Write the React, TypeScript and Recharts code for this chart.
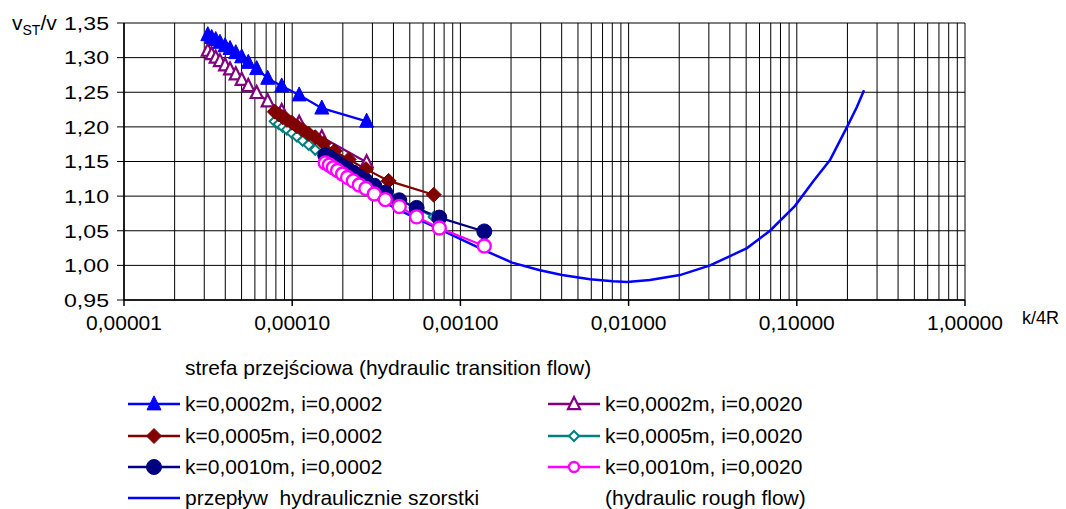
import React from "react";
import { LineChart, Line, XAxis, YAxis, CartesianGrid, Label } from "recharts";

// k/4R for the three roughness values
const kRatio02 = [3.15e-5, 3.32e-5, 3.51e-5, 3.72e-5, 3.99e-5, 4.27e-5, 4.62e-5, 5.01e-5, 5.48e-5, 6.15e-5, 7.15e-5, 8.66e-5, 1.1e-4, 1.5e-4, 2.77e-4];
const kRatio05 = [7.87e-5, 8.31e-5, 8.78e-5, 9.31e-5, 9.96e-5, 1.067e-4, 1.154e-4, 1.253e-4, 1.371e-4, 1.538e-4, 1.788e-4, 2.166e-4, 2.745e-4, 3.745e-4, 6.94e-4];
const kRatio10 = [1.573e-4, 1.662e-4, 1.755e-4, 1.861e-4, 1.993e-4, 2.134e-4, 2.308e-4, 2.505e-4, 2.742e-4, 3.076e-4, 3.576e-4, 4.332e-4, 5.49e-4, 7.49e-4, 1.387e-3];

// vST/v
const v02_i0002 = [1.333, 1.329, 1.326, 1.322, 1.317, 1.313, 1.307, 1.301, 1.293, 1.284, 1.27, 1.259, 1.246, 1.227, 1.208];
const v02_i0020 = [1.31, 1.305, 1.3, 1.295, 1.289, 1.283, 1.276, 1.268, 1.259, 1.249, 1.237, 1.223, 1.206, 1.185, 1.149];
const v05_i0002 = [1.222, 1.218, 1.214, 1.21, 1.206, 1.201, 1.196, 1.19, 1.185, 1.176, 1.165, 1.153, 1.139, 1.122, 1.102];
const v05_i0020 = [1.208, 1.204, 1.2, 1.196, 1.191, 1.186, 1.18, 1.174, 1.167, 1.159, 1.148, 1.136, 1.121, 1.103, 1.07];
const v10_i0002 = [1.159, 1.156, 1.152, 1.148, 1.143, 1.139, 1.134, 1.128, 1.122, 1.115, 1.105, 1.094, 1.083, 1.069, 1.049];
const v10_i0020 = [1.148, 1.145, 1.141, 1.137, 1.132, 1.127, 1.122, 1.116, 1.111, 1.103, 1.095, 1.085, 1.07, 1.054, 1.028];

// hydraulic rough flow curve
const roughX = [1.58e-4, 2.75e-4, 4.38e-4, 8.68e-4, 1.38e-3, 2.03e-3, 2.97e-3, 4.02e-3, 5.9e-3, 8.08e-3, 9.78e-3, 1.34e-2, 2.02e-2, 3.05e-2, 4.01e-2, 5.06e-2, 6.93e-2, 9.76e-2, 0.125, 0.1575, 0.199, 0.228, 0.251];
const roughV = [1.142, 1.105, 1.079, 1.045, 1.022, 1.004, 0.993, 0.986, 0.98, 0.977, 0.976, 0.979, 0.986, 1.0, 1.0135, 1.025, 1.05, 1.086, 1.121, 1.152, 1.2, 1.229, 1.253];

const yTicks = [0.95, 1.0, 1.05, 1.1, 1.15, 1.2, 1.25, 1.3, 1.35];
const decades = [0.00001, 0.0001, 0.001, 0.01, 0.1, 1];
const gridTicks: number[] = [];
decades.slice(0, -1).forEach((d) => {
  for (let m = 1; m < 10; m++) gridTicks.push(m * d);
});
gridTicks.push(1);

const FONT = "'Liberation Sans', Arial, sans-serif";
const FS = 21;

const toRows = (xs: number[], vs: number[]) => xs.map((x, i) => ({ x, v: vs[i] }));

type Marker = "triangle" | "diamond" | "circle";

function MarkerShape({ cx, cy, kind, color, filled, legend }: any) {
  const fill = filled ? color : "#fff";
  if (kind === "triangle") {
    const s = filled ? 14 : 12;
    return (
      <path
        d={`M${cx},${cy - s * 0.58} L${cx + s / 2},${cy + s * 0.42} L${cx - s / 2},${cy + s * 0.42} Z`}
        fill={fill}
        stroke={color}
        strokeWidth={filled ? 1 : 2.2}
      />
    );
  }
  if (kind === "diamond") {
    const s = filled ? 7.5 : 5;
    return (
      <path
        d={`M${cx},${cy - s} L${cx + s},${cy} L${cx},${cy + s} L${cx - s},${cy} Z`}
        fill={fill}
        stroke={color}
        strokeWidth={filled ? 1 : 2}
      />
    );
  }
  const r = filled ? 7.5 : 6.5;
  return <circle cx={cx} cy={cy} r={legend && !filled ? 5 : r} fill={fill} stroke={color} strokeWidth={filled ? 1 : 2.4} />;
}

const series = [
  { name: "k=0,0002m, i=0,0002", xs: kRatio02, vs: v02_i0002, color: "#0000FF", marker: "triangle" as Marker, filled: true },
  { name: "k=0,0005m, i=0,0002", xs: kRatio05, vs: v05_i0002, color: "#800000", marker: "diamond" as Marker, filled: true },
  { name: "k=0,0010m, i=0,0002", xs: kRatio10, vs: v10_i0002, color: "#000080", marker: "circle" as Marker, filled: true },
  { name: "k=0,0002m, i=0,0020", xs: kRatio02, vs: v02_i0020, color: "#800080", marker: "triangle" as Marker, filled: false },
  { name: "k=0,0005m, i=0,0020", xs: kRatio05, vs: v05_i0020, color: "#008080", marker: "diamond" as Marker, filled: false },
  { name: "k=0,0010m, i=0,0020", xs: kRatio10, vs: v10_i0020, color: "#FF00FF", marker: "circle" as Marker, filled: false },
];
// drawing order (back to front)
const drawOrder = [3, 4, 0, 1, 2, 5];

const isDecade = (v: number) => Math.abs(Math.log10(v) - Math.round(Math.log10(v))) < 1e-9;

function XTick({ x, y, payload }: any) {
  if (!isDecade(payload.value)) return null;
  return (
    <g>
      <line x1={x} x2={x} y1={y - 14} y2={y - 8} stroke="#000" strokeWidth={1.5} />
      <text x={x} y={y} dy="0.75em" textAnchor="middle" fontSize={FS} fontFamily={FONT} fill="#000">
        {payload.value.toFixed(5).replace(".", ",")}
      </text>
    </g>
  );
}

function YTick({ x, y, payload }: any) {
  return (
    <text
      x={x}
      y={y}
      dy="0.36em"
      textAnchor="end"
      fontSize={19}
      fontFamily={FONT}
      fill="#000"
      textLength={45}
      lengthAdjust="spacingAndGlyphs"
    >
      {payload.value.toFixed(2).replace(".", ",")}
    </text>
  );
}

function LegendBlock() {
  const rowY = [404, 436, 467, 498];
  const cols = [
    { lx: 128, tx: 185 },
    { lx: 548, tx: 605 },
  ];
  return (
    <svg width={1066} height={509} style={{ position: "absolute", left: 0, top: 0, pointerEvents: "none" }}>
      <text x={185} y={368} dy="0.35em" fontSize={FS} fontFamily={FONT}>
        strefa przejściowa (hydraulic transition flow)
      </text>
      {series.map((s, i) => {
        const col = cols[i < 3 ? 0 : 1];
        const y = rowY[i % 3];
        return (
          <g key={s.name}>
            <line x1={col.lx} x2={col.lx + 52} y1={y} y2={y} stroke={s.color} strokeWidth={2.5} />
            <MarkerShape cx={col.lx + 26} cy={y} kind={s.marker} color={s.color} filled={s.filled} legend />
            <text x={col.tx} y={y} dy="0.35em" fontSize={FS} fontFamily={FONT}>
              {s.name}
            </text>
          </g>
        );
      })}
      <line x1={128} x2={180} y1={rowY[3]} y2={rowY[3]} stroke="#0000FF" strokeWidth={2.5} />
      <text x={185} y={rowY[3]} dy="0.35em" fontSize={FS} fontFamily={FONT} style={{ whiteSpace: "pre" }}>
        {"przepływ  hydraulicznie szorstki"}
      </text>
      <text x={605} y={rowY[3]} dy="0.35em" fontSize={FS} fontFamily={FONT}>
        (hydraulic rough flow)
      </text>
    </svg>
  );
}

export default function App() {
  return (
    <div style={{ position: "absolute", left: 0, top: 0, width: 1066, height: 509, background: "#fff", fontFamily: FONT }}>
      <LineChart width={1066} height={509} margin={{ top: 23, right: 101, left: 64, bottom: 169 }}>
        <CartesianGrid stroke="#000" strokeWidth={1} />
        <XAxis
          dataKey="x"
          type="number"
          scale="log"
          domain={[0.00001, 1]}
          ticks={gridTicks}
          allowDataOverflow
          height={40}
          interval={0}
          tick={<XTick />}
          tickLine={false}
          tickSize={6}
          tickMargin={8}
          axisLine={{ stroke: "#000", strokeWidth: 1.5 }}
        >
          <Label
            content={({ viewBox }: any) => (
              <text x={viewBox.x + viewBox.width + 57} y={viewBox.y + 18} dy="0.35em" fontSize={18} fontFamily={FONT}>
                k/4R
              </text>
            )}
          />
        </XAxis>
        <YAxis
          type="number"
          domain={[0.95, 1.35]}
          ticks={yTicks}
          interval={0}
          width={60}
          tickSize={7}
          tickMargin={8}
          tick={<YTick />}
          tickLine={{ stroke: "#000" }}
          axisLine={{ stroke: "#000", strokeWidth: 1.5 }}
        >
          <Label
            content={({ viewBox }: any) => (
              <text x={12} y={viewBox.y} dy="0.35em" fontSize={FS} fontFamily={FONT}>
                v
                <tspan fontSize={14} dy="5">ST</tspan>
                <tspan dy="-5">/v</tspan>
              </text>
            )}
          />
        </YAxis>
        <Line
          data={toRows(roughX, roughV)}
          dataKey="v"
          type="linear"
          stroke="#0000FF"
          strokeWidth={2.5}
          dot={false}
          isAnimationActive={false}
        />
        {drawOrder.map((i) => {
          const s = series[i];
          return (
            <Line
              key={s.name}
              data={toRows(s.xs, s.vs)}
              dataKey="v"
              name={s.name}
              type="linear"
              stroke={s.color}
              strokeWidth={2.2}
              isAnimationActive={false}
              dot={(p: any) => (
                <MarkerShape key={`${s.name}-${p.index}`} cx={p.cx} cy={p.cy} kind={s.marker} color={s.color} filled={s.filled} />
              )}
            />
          );
        })}
      </LineChart>
      <LegendBlock />
    </div>
  );
}
